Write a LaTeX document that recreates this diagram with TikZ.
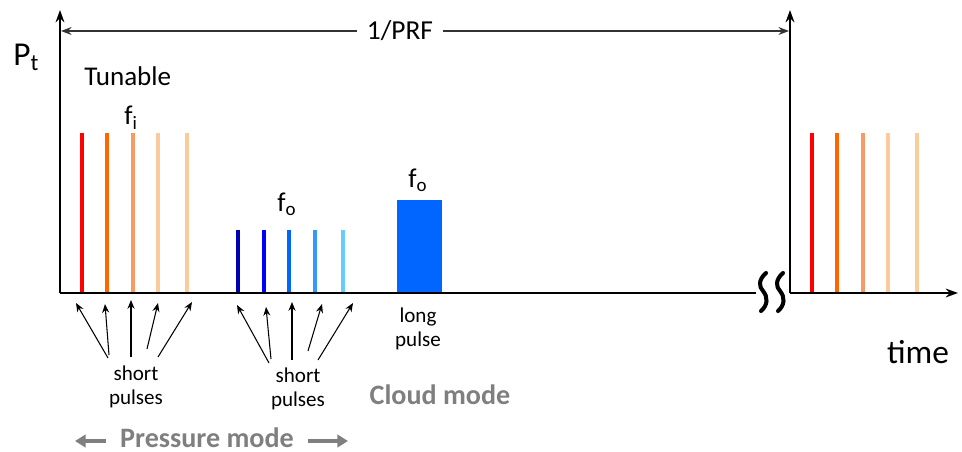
\documentclass[tikz,border=0pt]{standalone}
\usepackage{fontspec}
\setmainfont{Carlito}
\usetikzlibrary{arrows.meta}
\definecolor{rA}{RGB}{255,0,0}
\definecolor{rB}{RGB}{255,102,0}
\definecolor{rC}{RGB}{248,154,102}
\definecolor{rD}{RGB}{251,203,156}
\definecolor{rE}{RGB}{250,204,154}
\definecolor{bA}{RGB}{0,0,180}
\definecolor{bB}{RGB}{0,0,255}
\definecolor{bC}{RGB}{0,102,255}
\definecolor{bD}{RGB}{51,153,255}
\definecolor{bE}{RGB}{102,204,255}
\definecolor{modegray}{RGB}{127,127,127}
\begin{document}
\begin{tikzpicture}[x=0.02cm,y=-0.02cm,line join=round,
		pulse/.style={line width=2.3pt},
		axis/.style={line width=1.1pt,-{Stealth[length=7pt,width=5pt]}},
		ptr/.style={line width=0.6pt,-{Stealth[length=5pt,width=4pt]}},
		period/.style={line width=0.8pt,color=black!80,-{Stealth[length=6pt,width=4.5pt]}},
		mode/.style={line width=2pt,color=modegray,-{Triangle[length=6pt,width=7pt]}},
		lbl/.style={inner sep=0pt}]
	\useasboundingbox (0,0) rectangle (962,452);
	\def\yb{293};\def\yt{10};\def\xa{60};\def\xb{790};
	\coordinate (O) at (\xa,\yb);
	\coordinate (O2) at (\xb,\yb);
	\coordinate (brk) at (756,\yb);
	\foreach \x/\c in {82/rA,107/rB,133/rC,158/rD,187/rE}{
		\draw[pulse,\c] (\x,\yb)--(\x,133);
		\draw[pulse,\c] (\x+730,\yb)--(\x+730,133);
	}
	\foreach \x/\c in {238/bA,264/bB,289/bC,315/bD,343/bE}{
		\draw[pulse,\c] (\x,\yb)--(\x,230);
	}
	\fill[bC] (397,\yb) rectangle (442,200);
	\draw[axis] (O)--(\xa,\yt);
	\draw[line width=1.1pt] (O)--(brk);
	\draw[axis] (O2)--(\xb,\yt);
	\draw[axis] (O2)--(958,\yb);
	\foreach \s in {0,17}{
		\draw[line width=2.3pt,line cap=round,shift={(\s,0)}] (766,273) .. controls (758,280) and (759,287) .. (763,291) .. controls (768,297) and (768,305) .. (761,311);
	}
	\node[inner ysep=0pt,inner xsep=5.5pt,font=\fontsize{15.6}{18}\selectfont] (prf) at (400,31) {1/PRF};
	\coordinate (pl) at (61,31);
	\coordinate (pr) at (789,31);
	\draw[period] (prf)--(pl);
	\draw[period] (prf)--(pr);
	\node[lbl,anchor=base west,font=\fontsize{19}{22}\selectfont] (pt) at (13,66) {P\textsubscript{t}};
	\node[lbl,anchor=base west,font=\fontsize{15.4}{18}\selectfont] (tun) at (84,86) {Tunable};
	\node[lbl,anchor=base,font=\fontsize{15.4}{18}\selectfont] (fi) at (131,125) {f\textsubscript{i}};
	\node[lbl,anchor=base,font=\fontsize{15.4}{18}\selectfont] (fo) at (287,212) {f\textsubscript{o}};
	\node[lbl,anchor=base,font=\fontsize{15.4}{18}\selectfont] (fol) at (418,188) {f\textsubscript{o}};
	\foreach \a/\b/\c/\d [count=\i] in {108/358/76/303,109/355/105/304,131/357/131/300,147/349/158/303,158/357/192/302,
		269/363/237/305,271/359/266/307,292/360/292/302,308/351/322/304,318/360/353/303}{
		\coordinate (st\i) at (\a,\b);
		\coordinate (sh\i) at (\c,\d);
		\draw[ptr] (st\i)--(sh\i);
	}
	\node[lbl,align=center,font=\fontsize{12}{13.7}\selectfont] (spA) at (136,387) {short\\pulses};
	\node[lbl,align=center,font=\fontsize{12}{13.7}\selectfont] (spB) at (298,389) {short\\pulses};
	\node[lbl,align=center,font=\fontsize{12}{13.7}\selectfont] (lp) at (418,329) {long\\pulse};
	\node[lbl,anchor=base,font=\bfseries\fontsize{16}{19}\selectfont,text=modegray] (cm) at (440,404) {Cloud mode};
	\node[lbl,anchor=base,font=\bfseries\fontsize{16}{19}\selectfont,text=modegray,inner xsep=8pt] (pm) at (207,447) {Pressure mode};
	\coordinate (pmL) at (75,441);
	\coordinate (pmR) at (348,441);
	\draw[mode] (pm.west |- pmL)--(pmL);
	\draw[mode] (pm.east |- pmR)--(pmR);
	\node[lbl,anchor=base,font=\fontsize{19}{22}\selectfont] (tm) at (918,363) {time};
\end{tikzpicture}
\end{document}
